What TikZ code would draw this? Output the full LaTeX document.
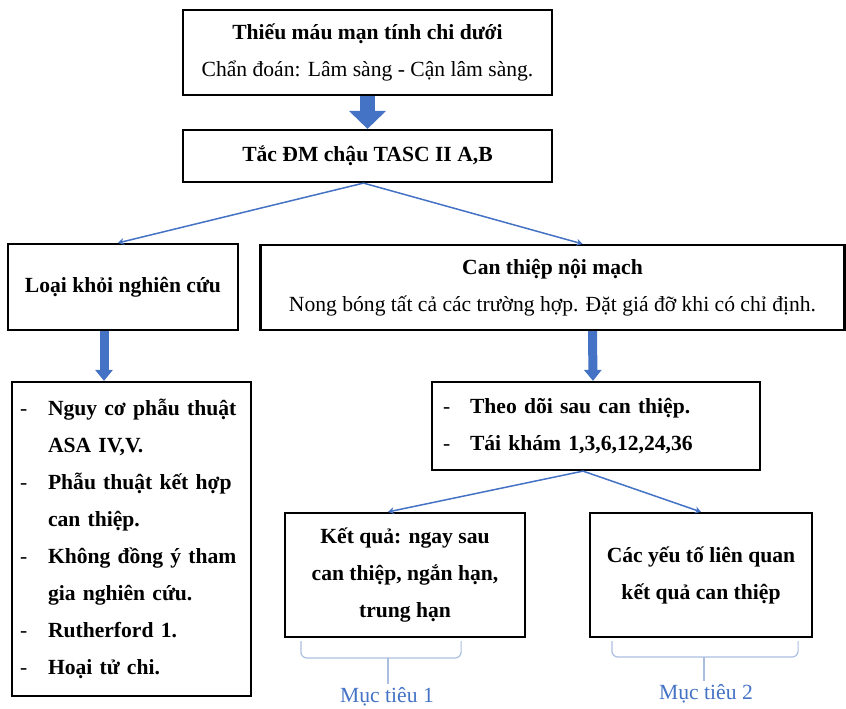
\documentclass[tikz,border=0pt]{standalone}
\usepackage{fontspec}
\setmainfont{Liberation Serif}
\usetikzlibrary{positioning,arrows.meta,calc}
\definecolor{flow}{HTML}{4472C4}
\definecolor{bracecol}{HTML}{AABFE0}
\newcommand{\listdash}[1][28pt]{\makebox[#1][l]{\mdseries -}}

\begin{document}
\begin{tikzpicture}[x=1pt, y=-1pt,
  box/.style={draw, line width=2.2pt, inner sep=0pt, align=center,
              font=\fontsize{21.6}{37}\selectfont\bfseries},
  listbox/.style={box, align=left},
  link/.style={flow, line width=1.5pt, -{Stealth[length=6pt, width=7pt]}},
  fat/.style={flow, line width=9pt, -{Triangle[length=11pt, width=17pt]}},
  goal/.style={font=\fontsize{21.6}{37}\selectfont, text=flow},
  curly/.style={bracecol, line width=1.2pt, rounded corners=6pt}]
\useasboundingbox (0,0) rectangle (846,709);
\node[box, minimum width=369pt, minimum height=85pt] (diag) at (367.5, 52.5)
  {Thiếu máu mạn tính chi dưới\\\textmd{Chẩn đoán: Lâm sàng - Cận lâm sàng.}};
\node[box, minimum width=369pt, minimum height=52pt] (tasc) at (367.5, 156)
  {Tắc ĐM chậu TASC II A,B};
\node[box, minimum width=230pt, minimum height=86pt] (excl) at (123, 287)
  {Loại khỏi nghiên cứu};
\node[box, minimum width=584pt, minimum height=85pt] (endo) at (552.5, 287.5)
  {Can thiệp nội mạch\\\textmd{Nong bóng tất cả các trường hợp. Đặt giá đỡ khi có chỉ định.}};
\node[listbox, inner xsep=8pt, text width=223pt, minimum height=314pt] (crit) at (131.5, 539)
  {\listdash Nguy cơ phẫu thuật\\\hspace*{28pt}ASA IV,V.\\
   \listdash Phẫu thuật kết hợp\\\hspace*{28pt}can thiệp.\\
   \listdash Không đồng ý tham\\\hspace*{28pt}gia nghiên cứu.\\
   \listdash Rutherford 1.\\
   \listdash Hoại tử chi.};
\node[listbox, inner xsep=11pt, text width=306pt, minimum height=88pt] (follow) at (596, 426)
  {\listdash[27pt]Theo dõi sau can thiệp.\\\listdash[27pt]Tái khám 1,3,6,12,24,36};
\node[box, minimum width=240pt, minimum height=124pt] (res1) at (405, 575)
  {Kết quả: ngay sau\\can thiệp, ngắn hạn,\\trung hạn};
\node[box, minimum width=222pt, minimum height=124pt] (res2) at (701, 575)
  {Các yếu tố liên quan\\kết quả can thiệp};
\node[goal] (goal1) at (387, 697) {Mục tiêu 1};
\node[goal] (goal2) at (706, 694) {Mục tiêu 2};
\draw[fat, line width=15pt, -{Triangle[length=18pt, width=36pt]}]
  (diag.south) -- (tasc.north);
\draw[fat] ([xshift=-19pt]excl.south) -- ([xshift=-27.5pt]crit.north);
\draw[fat] ([xshift=40pt]endo.south) -- ([xshift=-3pt]follow.north);
\foreach \s/\sx/\t/\tx in {tasc/-4/excl/-5, tasc/-4/endo/30,
                          follow/-13/res1/-17, follow/-13/res2/0}
  \draw[link] ([xshift=\sx pt]\s.south) -- ([xshift=\tx pt]\t.north);
\coordinate (bar1) at (388, 658);
\coordinate (bar2) at (704, 657);
\draw[curly] ($(res1.south west)+(17,3)$) |- (bar1) -| ($(res1.south east)+(-65,3)$);
\draw[curly] ($(res2.south west)+(23,3)$) |- (bar2) -| ($(res2.south east)+(-15,3)$);
\draw[bracecol, line width=1.2pt] (bar1) -- (bar1 |- goal1.north);
\draw[bracecol, line width=1.2pt] (bar2) -- (bar2 |- goal2.north);
\end{tikzpicture}
\end{document}
